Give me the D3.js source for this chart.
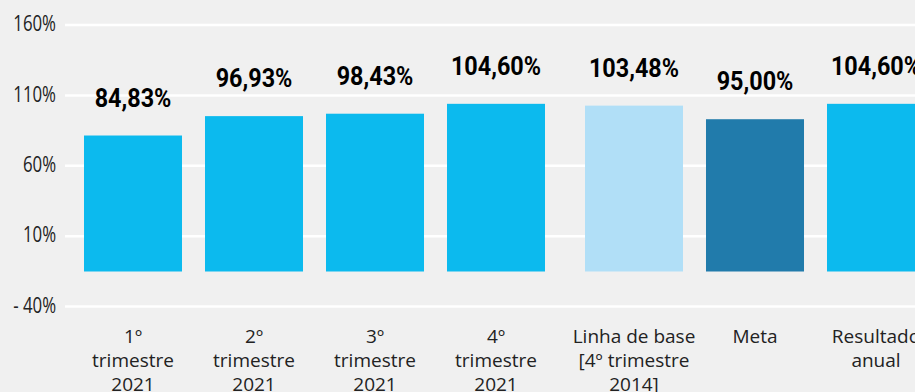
<!DOCTYPE html>
<html>
<head>
<meta charset="utf-8">
<script src="https://cdn.jsdelivr.net/npm/d3@7"></script>
<style>
  html, body { margin: 0; padding: 0; background: #f0f0f0; overflow: hidden; }
  svg { display: block; }
</style>
</head>
<body>
<svg id="chart" width="915" height="392"></svg>
<script>
// Categories, in drawing order
const categories = [
  "1º trimestre 2021",
  "2º trimestre 2021",
  "3º trimestre 2021",
  "4º trimestre 2021",
  "Linha de base [4º trimestre 2014]",
  "Meta",
  "Resultado anual"
];
// Category labels split into their display lines
const categoryLines = [
  ["1º", "trimestre", "2021"],
  ["2º", "trimestre", "2021"],
  ["3º", "trimestre", "2021"],
  ["4º", "trimestre", "2021"],
  ["Linha de base", "[4º trimestre", "2014]"],
  ["Meta"],
  ["Resultado", "anual"]
];
// Indicator values (%)
const values = [84.83, 96.93, 98.43, 104.60, 103.48, 95.00, 104.60];
// Bar kind per category (drives colour)
const kinds = ["trimestre", "trimestre", "trimestre", "trimestre", "base", "meta", "resultado"];
// Group per category: quarterly results vs. reference values
const groups = [0, 0, 0, 0, 1, 1, 1];
// Y axis ticks
const axisTicks = [-40, 10, 60, 110, 160];
const axisTickLabels = ["- 40%", "10%", "60%", "110%", "160%"];

const W = 915, H = 392;
const colors = { trimestre: "#0cbaee", base: "#b1dff7", meta: "#217bab", resultado: "#0cbaee" };
const labelFont = "'Open Sans', 'DejaVu Sans', sans-serif";

const svg = d3.select("#chart");
svg.append("rect").attr("width", W).attr("height", H).attr("fill", "#f0f0f0");

const ptBR = d3.formatLocale({ decimal: ",", thousands: ".", grouping: [3], currency: ["R$", ""] });
const fmt = v => ptBR.format(".2f")(v) + "%";

// Reference axis (gridlines + tick labels)
const yAxis = d3.scaleLinear().domain([-40, 160]).range([306, 24.5]);
const axisLeft = 65;
const tickScaleX = 0.8;
const axisG = svg.append("g")
  .attr("transform", `translate(${axisLeft},0)`)
  .call(d3.axisLeft(yAxis)
    .tickValues(axisTicks)
    .tickFormat((d, i) => axisTickLabels[i])
    .tickSize(-(W - axisLeft))
    .tickPadding(9));
axisG.select(".domain").remove();
axisG.selectAll(".tick line").attr("stroke", "#ffffff").attr("stroke-width", 2.5);
axisG.selectAll(".tick text")
  .attr("x", -9 / tickScaleX)
  .attr("dy", "0.3em")
  .attr("transform", `scale(${tickScaleX},1)`)
  .attr("fill", "#222")
  .style("white-space", "pre")
  .style("font-family", labelFont)
  .style("font-weight", 400)
  .style("font-size", "21px");

// Bars
const groupGap = 17;
const x = d3.scaleBand().domain(categories).range([72.5, 919.5]).paddingInner(0.19).paddingOuter(0.095);
const xPos = (c, i) => x(c) + groups[i] * groupGap;
const yBar = d3.scaleLinear().domain([0, 100]).range([271.5, 111.2]);

const data = categories.map((c, i) => ({ c, i, v: values[i], kind: kinds[i], lines: categoryLines[i] }));

svg.append("g").selectAll("rect")
  .data(data)
  .join("rect")
  .attr("x", d => xPos(d.c, d.i))
  .attr("y", d => yBar(d.v))
  .attr("width", x.bandwidth())
  .attr("height", d => yBar(0) - yBar(d.v))
  .attr("fill", d => colors[d.kind]);

// Value labels
svg.append("g").selectAll("text")
  .data(data)
  .join("text")
  .attr("transform", d => `translate(${xPos(d.c, d.i) + x.bandwidth() / 2},${yBar(d.v) - 29}) scale(0.9,1)`)
  .attr("text-anchor", "middle")
  .attr("fill", "#000")
  .style("font-family", "Roboto, 'DejaVu Sans', sans-serif")
  .style("font-weight", 700)
  .style("font-size", "26px")
  .text(d => fmt(d.v));

// Category labels
const catG = svg.append("g").selectAll("text")
  .data(data)
  .join("text")
  .attr("text-anchor", "middle")
  .attr("fill", "#222")
  .style("font-family", labelFont)
  .style("font-weight", 400)
  .style("font-size", "19px");
catG.selectAll("tspan")
  .data(d => d.lines.map(t => ({ t, cx: xPos(d.c, d.i) + x.bandwidth() / 2 })))
  .join("tspan")
  .attr("x", d => d.cx)
  .attr("y", (d, j) => 343 + j * 24)
  .text(d => d.t);
</script>
</body>
</html>
